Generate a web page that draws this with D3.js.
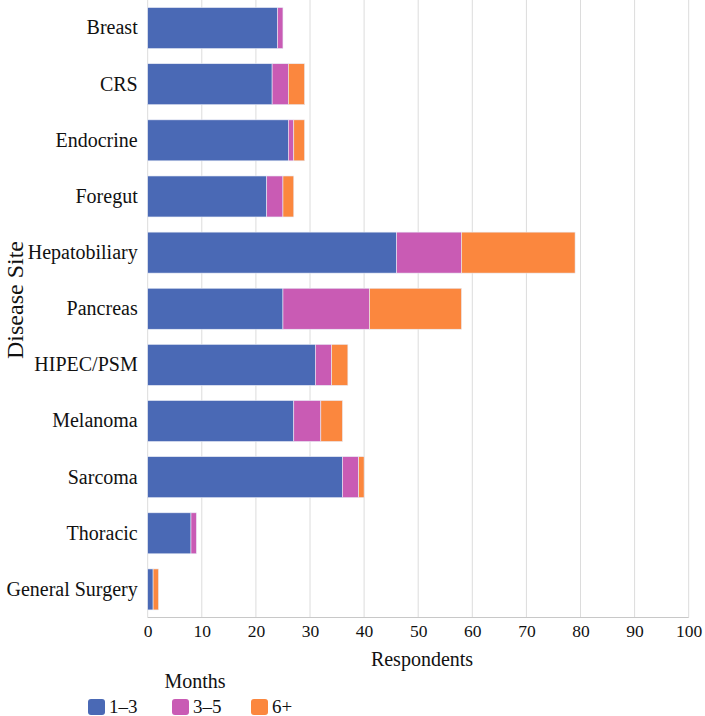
<!DOCTYPE html>
<html><head><meta charset="utf-8">
<script src="https://cdn.jsdelivr.net/npm/d3@7"></script>
<style>body{margin:0;background:#fff}svg{display:block}text{font-family:"Liberation Serif","Times New Roman",serif;fill:#111}</style>
</head><body><svg id="c" width="705" height="716"></svg>
<script>
const categories = ["Breast","CRS","Endocrine","Foregut","Hepatobiliary","Pancreas","HIPEC/PSM","Melanoma","Sarcoma","Thoracic","General Surgery"];
const seriesNames = ["1–3","3–5","6+"];
const months13 = [24,23,26,22,46,25,31,27,36,8,1];
const months35 = [1,3,1,3,12,16,3,5,3,1,0];
const months6p = [0,3,2,2,21,17,3,4,1,0,1];
const xTicks = [0,10,20,30,40,50,60,70,80,90,100];
const colors = ["#4a69b5","#c95bb4","#fb873e"];

const svg = d3.select("#c");
const pLeft = 147.7, pRight = 688.7, pTop = 0, pBottom = 617.5;
const x = d3.scaleLinear().domain([0,100]).range([pLeft,pRight]);
const y = d3.scaleBand().domain(categories).range([pTop,pBottom]).paddingInner(0.27).paddingOuter(0.135);

// gridlines
svg.append("g").selectAll("line").data(xTicks).join("line")
  .attr("x1",d=>x(d)).attr("x2",d=>x(d)).attr("y1",pTop).attr("y2",pBottom)
  .attr("stroke","#dcdcdc").attr("stroke-width",1);

const rows = categories.map((c,i)=>({cat:c, "1–3":months13[i], "3–5":months35[i], "6+":months6p[i]}));
const stack = d3.stack().keys(seriesNames)(rows);
svg.append("g").selectAll("g").data(stack).join("g").attr("fill",(d,i)=>colors[i])
  .selectAll("rect").data(d=>d).join("rect")
  .attr("x",d=>x(d[0])).attr("width",d=>x(d[1])-x(d[0]))
  .attr("y",d=>y(d.data.cat)).attr("height",y.bandwidth())
  .attr("stroke","#e8ecf6").attr("stroke-width",0.6);

// axis line
svg.append("line").attr("x1",pLeft).attr("x2",pRight).attr("y1",pBottom).attr("y2",pBottom).attr("stroke","#c8c8c8");

const xa = d3.axisBottom(x).tickValues(xTicks).tickSize(0).tickPadding(7);
const gx = svg.append("g").attr("transform",`translate(0,${pBottom})`).call(xa);
gx.select(".domain").remove();
gx.selectAll("text").attr("font-size",17.5).attr("font-family","Liberation Serif").attr("fill","#111").attr("dy","0.71em");

const ya = d3.axisLeft(y).tickSize(0).tickPadding(10);
const gy = svg.append("g").attr("transform",`translate(${pLeft},0)`).call(ya);
gy.select(".domain").remove();
gy.selectAll("text").attr("font-size",20).attr("font-family","Liberation Serif").attr("fill","#111");

svg.append("text").attr("x",422).attr("y",666).attr("text-anchor","middle").attr("font-size",20).text("Respondents");
svg.append("text").attr("transform","translate(23,300) rotate(-90)").attr("text-anchor","middle").attr("font-size",24).text("Disease Site");

svg.append("text").attr("x",195).attr("y",688).attr("text-anchor","middle").attr("font-size",20).text("Months");
const legX = [88,172,251];
const lg = svg.append("g").selectAll("g").data(seriesNames).join("g").attr("transform",(d,i)=>`translate(${legX[i]},699)`);
lg.append("rect").attr("width",17).attr("height",16).attr("rx",3).attr("fill",(d,i)=>colors[i]);
lg.append("text").attr("x",21).attr("y",14).attr("font-size",19).text(d=>d);
</script></body></html>
